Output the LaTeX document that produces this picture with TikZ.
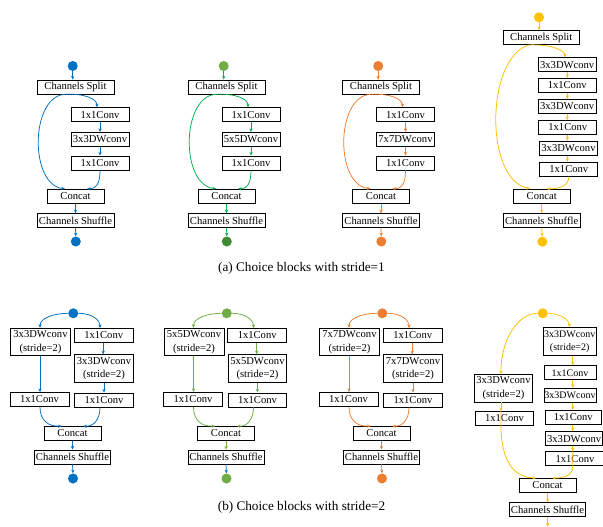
\documentclass[tikz,border=0pt]{standalone}
\usepackage{fontspec}
\setmainfont{Liberation Serif}
\usetikzlibrary{arrows.meta,calc}
\definecolor{cblue}{RGB}{0,112,192}
\definecolor{cgreen}{RGB}{0,176,80}
\definecolor{lgreen}{RGB}{112,173,71}
\definecolor{dgreen}{RGB}{62,140,50}
\definecolor{corange}{RGB}{237,125,49}
\definecolor{cyellow}{RGB}{255,192,0}
\newcommand\boxfont{\fontsize{10.6}{13.4}\selectfont}
\newcommand\smallboxfont{\fontsize{10}{13}\selectfont}
\tikzset{
 blk/.style={draw=black, line width=0.9pt, fill=white, inner sep=0pt, font=\boxfont, align=center, minimum height=14pt},
 tall/.style={minimum height=27.5pt},
 conn/.style={line width=0.75pt},
 arr/.style={conn, -{Stealth[length=3.6pt,width=3.2pt]}},
 ball/.style={circle, inner sep=0pt, minimum size=10pt},
 captext/.style={font=\fontsize{13.2}{16}\selectfont, inner sep=0pt},
}
% top-row block: id, xshift, line colour, top dot, bottom dot, dw text
\newcommand\TopBlk[6]{%
\begin{scope}[xshift=#2pt]
\node[ball, fill=#4] (t#1) at (72.7,66) {};
\node[blk, minimum width=77pt] (s#1) at (75.5,87) {Channels Split};
\node[blk, minimum width=58pt] (a#1) at (100,114.7) {1x1Conv};
\node[blk, minimum width=58pt] (b#1) at (100,139.5) {#6};
\node[blk, minimum width=58pt] (c#1) at (100,163) {1x1Conv};
\node[blk, minimum width=57pt] (k#1) at (75.5,196.2) {Concat};
\node[blk, minimum width=77pt] (h#1) at (75.5,220.8) {Channels Shuffle};
\node[ball, fill=#5] (e#1) at (75.8,241.5) {};
\draw[arr,#3] (t#1.south) -- (t#1.south |- s#1.north);
\draw[arr,#3] ([xshift=-12.5pt]s#1.south) .. controls (30,100) and (30,185) .. ([xshift=-10.5pt]k#1.north);
\draw[arr,#3] ([xshift=-12.5pt]s#1.south) .. controls (85,93) and (97,99) .. ([xshift=-3pt]a#1.north);
\draw[arr,#3] (a#1.south) -- (b#1.north);
\draw[arr,#3] (b#1.south) -- (c#1.north);
\draw[arr,#3] (c#1.south) .. controls (100,184) and (96,189) .. ([xshift=11.5pt]k#1.north);
\draw[arr,#3] (k#1.south) -- (h#1.north);
\draw[arr,#3] (h#1.south) -- (e#1.north);
\end{scope}}
% bottom-row block: id, xshift, line colour, dot colour, dw text, last arrow colour
\newcommand\BotBlk[6]{%
\begin{scope}[xshift=#2pt]
\node[ball, fill=#4] (bt#1) at (73.3,313.3) {};
\node[blk, tall, minimum width=60pt] (bl#1) at (40.5,342) {#5\\(stride=2)};
\node[blk, minimum width=59pt] (br#1) at (103.7,335.5) {1x1Conv};
\node[blk, tall, minimum width=58.5pt] (bs#1) at (104,368.5) {#5\\(stride=2)};
\node[blk, minimum width=59pt] (bm#1) at (39.5,399.5) {1x1Conv};
\node[blk, minimum width=58.5pt] (bn#1) at (104,400) {1x1Conv};
\node[blk, minimum width=57pt] (bk#1) at (72.5,433.5) {Concat};
\node[blk, minimum width=76pt] (bh#1) at (72.5,457) {Channels Shuffle};
\node[ball, fill=#4] (be#1) at (73,478.5) {};
\draw[arr,#3] (bt#1.west) .. controls (54,313.3) and (40,318) .. ([xshift=-0.5pt]bl#1.north);
\draw[arr,#3] (bt#1.east) .. controls (92,313.3) and (100,320) .. ([xshift=-3.7pt]br#1.north);
\draw[arr,#3] ([xshift=-0.5pt]bl#1.south) -- ([xshift=-0.5pt]bl#1.south |- bm#1.north);
\draw[arr,#3] ([xshift=-0.5pt]br#1.south) -- ([xshift=-0.5pt]br#1.south |- bs#1.north);
\draw[arr,#3] (bs#1.south) -- (bn#1.north);
\draw[arr,#3] ([xshift=0.5pt]bm#1.south) .. controls (40,420) and (48,426.8) .. ([xshift=-10.8pt]bk#1.north);
\draw[arr,#3] ([xshift=-4pt]bn#1.south) .. controls (100,420) and (93,426.8) .. ([xshift=10.8pt]bk#1.north);
\draw[arr,#3] (bk#1.south) -- (bh#1.north);
\draw[arr,#6] (bh#1.south) -- (be#1.north);
\end{scope}}
\begin{document}
\begin{tikzpicture}[x=1pt,y=-1pt]
\fill[white] (0,0) rectangle (603,527);
\useasboundingbox (0,0) rectangle (603,527);
\TopBlk{1}{0}{cblue}{cblue}{cblue}{3x3DWconv}
\TopBlk{2}{151}{cgreen}{lgreen}{dgreen}{5x5DWconv}
\TopBlk{3}{305.5}{corange}{corange}{corange}{7x7DWconv}
% top-row block 4
\node[ball, fill=cyellow] (t4) at (539,17.3) {};
\node[blk, minimum width=76pt] (s4) at (541.3,37.5) {Channels Split};
\node[blk, minimum width=58pt] (q1) at (567.2,64.8) {3x3DWconv};
\node[blk, minimum width=58pt] (q2) at (567.2,85.5) {1x1Conv};
\node[blk, minimum width=58pt] (q3) at (567.2,106.3) {3x3DWconv};
\node[blk, minimum width=58pt] (q4) at (567.8,127.5) {1x1Conv};
\node[blk, minimum width=58pt] (q5) at (568.5,148.2) {3x3DWconv};
\node[blk, minimum width=58pt] (q6) at (568.8,169.3) {1x1Conv};
\node[blk, minimum width=57pt] (k4) at (541.7,196.2) {Concat};
\node[blk, minimum width=77pt] (h4) at (541.7,220.8) {Channels Shuffle};
\node[ball, fill=cyellow] (e4) at (542.3,241.7) {};
\coordinate (qx) at (567.3,0);
\draw[arr,cyellow] (t4.south) -- (t4.south |- s4.north);
\draw[arr,cyellow] ([xshift=-13pt]s4.south) .. controls (485,60) and (485,180) .. ([xshift=-11.7pt]k4.north);
\draw[arr,cyellow] ([xshift=-13pt]s4.south) .. controls (550,44) and (565,50) .. ([xshift=-2.2pt]q1.north);
\draw[arr,cyellow] (q1.south -| qx) -- (q2.north -| qx);
\draw[arr,cyellow] (q2.south -| qx) -- (q3.north -| qx);
\draw[arr,cyellow] (q3.south -| qx) -- (q4.north -| qx);
\draw[arr,cyellow] (q4.south -| qx) -- (q5.north -| qx);
\draw[arr,cyellow] (q5.south -| qx) -- (q6.north -| qx);
\draw[arr,cyellow] (q6.south) .. controls (568.8,185) and (561,189) .. ([xshift=5pt]k4.north);
\draw[arr,cyellow] (k4.south) -- (h4.north);
\draw[arr,cyellow] (h4.south) -- (e4.north);
\node[captext] (capa) at (301.5,268) {(a) Choice blocks with stride=1};
\BotBlk{1}{0}{cblue}{cblue}{3x3DWconv}{cblue}
\BotBlk{2}{153.5}{lgreen}{lgreen}{5x5DWconv}{cblue}
\BotBlk{3}{309}{corange}{corange}{7x7DWconv}{corange}
% bottom-row block 4
\node[ball, fill=cyellow] (t8) at (542.7,313.3) {};
\node[blk, tall, minimum width=53pt, font=\smallboxfont] (r1) at (569.7,341.3) {3x3DWconv\\(stride=2)};
\node[blk, minimum width=52pt, font=\smallboxfont] (r2) at (570,372.8) {1x1Conv};
\node[blk, minimum width=52pt, font=\smallboxfont] (r3) at (570,395.3) {3x3DWconv};
\node[blk, minimum width=56.7pt] (r4) at (573.3,417.2) {1x1Conv};
\node[blk, minimum width=57pt] (r5) at (574.2,438.7) {3x3DWconv};
\node[blk, minimum width=58.5pt] (r6) at (575,458.7) {1x1Conv};
\node[blk, tall, minimum width=58.4pt] (l1) at (503.5,388.2) {3x3DWconv\\(stride=2)};
\node[blk, minimum width=57.6pt] (l2) at (504.5,418.3) {1x1Conv};
\node[blk, minimum width=57pt] (k8) at (547.5,485.5) {Concat};
\node[blk, minimum width=76pt] (h8) at (547.5,509.7) {Channels Shuffle};
\coordinate (e8) at (547.7,526.5);
\coordinate (rx) at (572.8,0);
\coordinate (lx) at (501,0);
\draw[arr,cyellow] (t8.west) .. controls (517.6,313.3) and (500.7,340.6) .. (l1.north -| lx);
\draw[arr,cyellow] (t8.east) .. controls (560,313.3) and (569.3,320) .. ([xshift=-0.4pt]r1.north);
\draw[arr,cyellow] (r1.south -| rx) -- (r2.north -| rx);
\draw[arr,cyellow] (r2.south -| rx) -- (r3.north -| rx);
\draw[arr,cyellow] (r3.south -| rx) -- (r4.north -| rx);
\draw[arr,cyellow] (r4.south -| rx) -- (r5.north -| rx);
\draw[arr,cyellow] (r5.south -| rx) -- (r6.north -| rx);
\draw[arr,cyellow] (l1.south -| lx) -- (l2.north -| lx);
\draw[arr,cyellow] (l2.north -| lx) -- (l2.south -| lx) .. controls (501,458) and (512,477.5) .. ([xshift=-11.5pt]k8.north);
\draw[arr,cyellow] (r6.north -| rx) -- (r6.south -| rx) .. controls (572.8,475) and (565,478) .. ([xshift=5pt]k8.north);
\draw[arr,cyellow] (k8.south) -- (h8.north);
\draw[arr,cyellow] (h8.south) -- (e8);
\node[captext] (capb) at (301.5,507.5) {(b) Choice blocks with stride=2};
\end{tikzpicture}
\end{document}
